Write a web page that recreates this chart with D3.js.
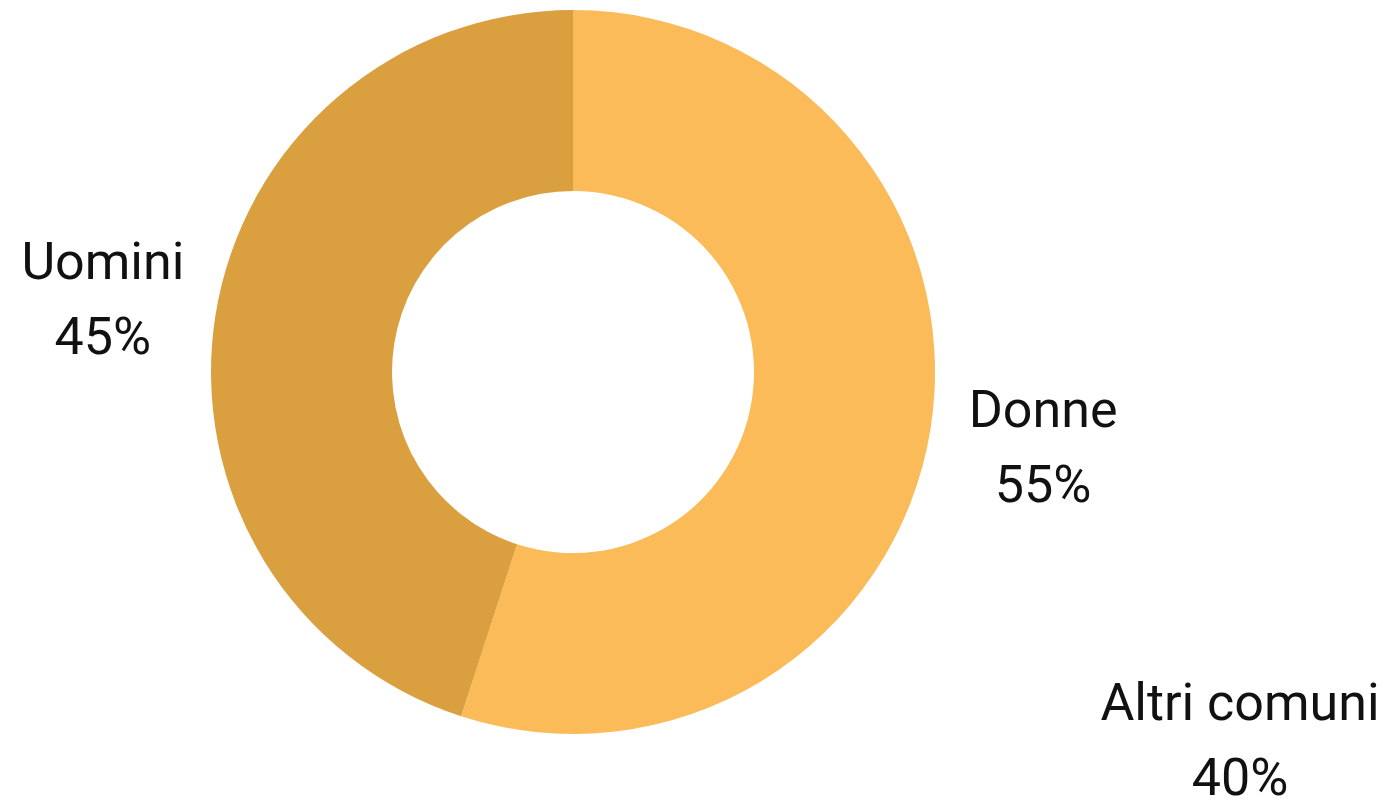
<!DOCTYPE html>
<html>
<head>
<meta charset="utf-8">
<script src="https://cdn.jsdelivr.net/npm/d3@7"></script>
<style>
  html, body { margin: 0; padding: 0; background: #fff; }
  svg { display: block; }
  text { font-family: Roboto, "Noto Sans", sans-serif; fill: #111; }
</style>
</head>
<body>
<svg id="chart" width="1391" height="804"></svg>
<script>
const categories = ["Donne", "Uomini"];
const values = [55, 45];
const colors = ["#FBBB58", "#DA9F3F"];
const extraLabel = ["Altri comuni", "40%"];

const width = 1391, height = 804;
const cx = 573, cy = 372;
const outerR = 362, innerR = 181, labelR = 476;
const fontSize = 52, lineGap = 75;

const svg = d3.select("#chart");
const g = svg.append("g").attr("transform", `translate(${cx},${cy})`);

const data = categories.map((c, i) => ({ cat: c, value: values[i], color: colors[i] }));
const pie = d3.pie().value(d => d.value).sort(null);
const arcs = pie(data);
const arc = d3.arc().innerRadius(innerR).outerRadius(outerR);
const labelArc = d3.arc().innerRadius(labelR).outerRadius(labelR);

g.selectAll("path.slice")
  .data(arcs)
  .join("path")
  .attr("class", "slice")
  .attr("d", arc)
  .attr("fill", d => d.data.color);

const total = d3.sum(values);
const lbl = g.selectAll("text.lbl")
  .data(arcs)
  .join("text")
  .attr("class", "lbl")
  .attr("text-anchor", "middle")
  .attr("font-size", fontSize)
  .attr("transform", d => { const [x, y] = labelArc.centroid(d); return `translate(${x},${y})`; });
lbl.append("tspan").attr("x", 0).attr("y", -19).text(d => d.data.cat);
lbl.append("tspan").attr("x", 0).attr("y", -19 + lineGap).text(d => Math.round(d.data.value / total * 100) + "%");

const extra = svg.append("text")
  .attr("text-anchor", "middle")
  .attr("font-size", fontSize)
  .attr("transform", `translate(${width - 151},${height - 65})`);
extra.append("tspan").attr("x", 0).attr("y", -19).text(extraLabel[0]);
extra.append("tspan").attr("x", 0).attr("y", -19 + lineGap).text(extraLabel[1]);
</script>
</body>
</html>
